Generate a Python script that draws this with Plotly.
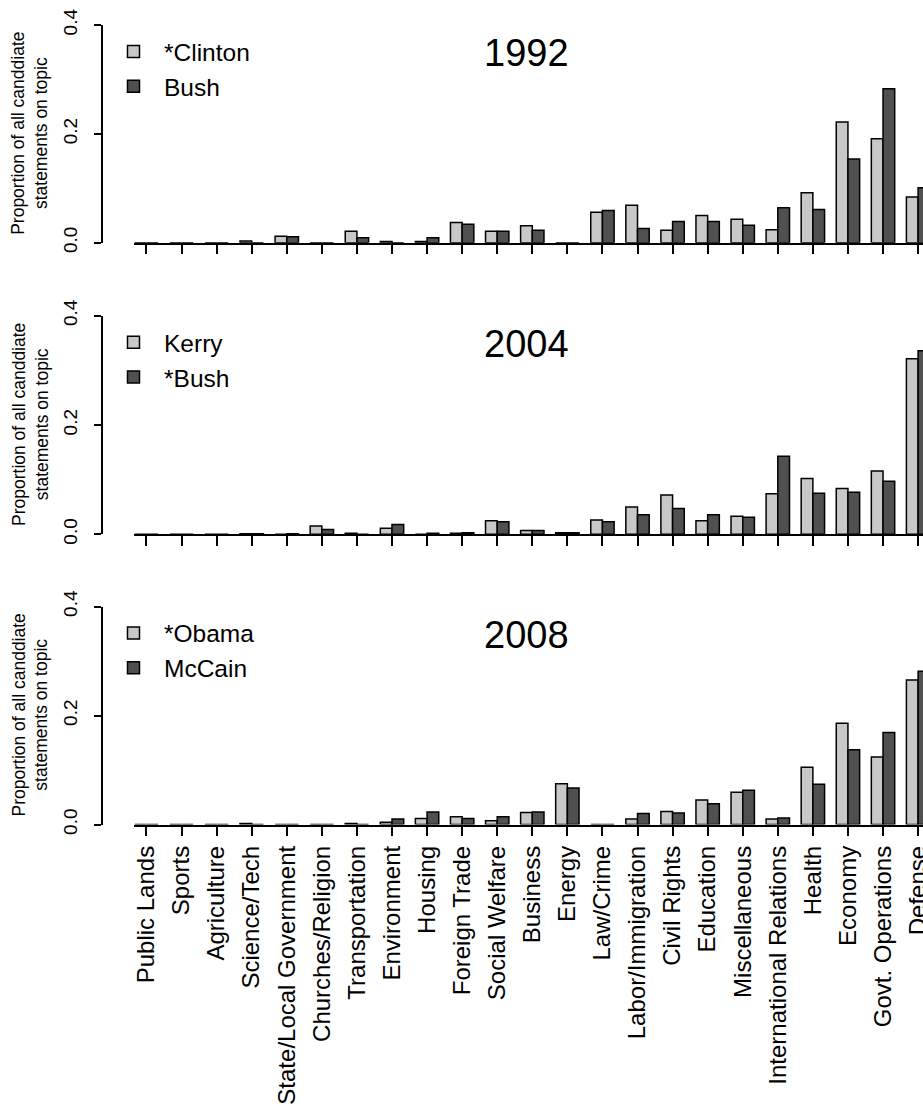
import plotly.graph_objects as go

# Topic categories, ordered as on the horizontal axis
categories = [
    "Public Lands", "Sports", "Agriculture", "Science/Tech",
    "State/Local Government", "Churches/Religion", "Transportation",
    "Environment", "Housing", "Foreign Trade", "Social Welfare", "Business",
    "Energy", "Law/Crime", "Labor/Immigration", "Civil Rights", "Education",
    "Miscellaneous", "International Relations", "Health", "Economy",
    "Govt. Operations", "Defense",
]

# Proportion of each candidate's statements on each topic
clinton_1992 = [0, 0, 0, 0.003, 0.012, 0, 0.021, 0.002, 0.002, 0.037, 0.021, 0.031,
                0, 0.056, 0.069, 0.023, 0.050, 0.043, 0.024, 0.092, 0.222, 0.191, 0.084]
bush_1992 = [0, 0, 0, 0, 0.011, 0, 0.009, 0, 0.009, 0.034, 0.021, 0.023,
             0, 0.059, 0.026, 0.039, 0.039, 0.032, 0.064, 0.061, 0.154, 0.283, 0.101]

kerry_2004 = [0, 0, 0, 0.001, 0, 0.015, 0.002, 0.011, 0, 0.002, 0.025, 0.007,
              0.003, 0.026, 0.050, 0.072, 0.025, 0.033, 0.074, 0.102, 0.084, 0.116, 0.321]
bush_2004 = [0, 0, 0, 0.001, 0.001, 0.009, 0, 0.018, 0.002, 0.003, 0.023, 0.007,
             0.003, 0.023, 0.036, 0.047, 0.036, 0.031, 0.143, 0.075, 0.077, 0.097, 0.336]

obama_2008 = [0, 0, 0, 0.002, 0, 0, 0.002, 0.004, 0.011, 0.014, 0.007, 0.022,
              0.075, 0, 0.010, 0.024, 0.045, 0.059, 0.010, 0.105, 0.186, 0.124, 0.265]
mccain_2008 = [0, 0, 0, 0, 0, 0, 0, 0.010, 0.023, 0.011, 0.014, 0.023,
               0.067, 0, 0.020, 0.021, 0.038, 0.063, 0.012, 0.074, 0.137, 0.169, 0.281]

years = ["1992", "2004", "2008"]
candidate_names = [("*Clinton", "Bush"), ("Kerry", "*Bush"), ("*Obama", "McCain")]
series = [(clinton_1992, bush_1992), (kerry_2004, bush_2004), (obama_2008, mccain_2008)]

y_ticks = [0, 0.2, 0.4]
y_tick_text = ["0.0", "0.2", "0.4"]

W, H = 923, 1111
FONT = "Liberation Sans, Arial, Helvetica, sans-serif"
LIGHT, DARK = "#c8c8c8", "#505050"


def fx(px):
    return px / W


def fy(px):
    return 1 - px / H


# pixel rows of the 0.4 and 0.0 ticks of each panel
panel_rows = [(25.0, 242.7), (315.7, 534.3), (606.5, 824.5)]

fig = go.Figure()
layout = dict(
    width=W, height=H, autosize=False,
    margin=dict(l=0, r=0, t=0, b=0, pad=0, autoexpand=False),
    paper_bgcolor="white", plot_bgcolor="white",
    barmode="group", bargap=1 / 3, bargroupgap=0,
    font=dict(family=FONT, color="black"),
    showlegend=True,
    annotations=[],
)

for k, (year, names, (a, b), (top, bottom)) in enumerate(
        zip(years, candidate_names, series, panel_rows)):
    sfx = "" if k == 0 else str(k + 1)
    leg = "legend" + sfx
    for vals, name, col in ((a, names[0], LIGHT), (b, names[1], DARK)):
        fig.add_trace(go.Bar(
            x=categories, y=vals, name=name,
            marker=dict(color=col, line=dict(color="black", width=1.5)),
            xaxis="x" + sfx, yaxis="y" + sfx, legend=leg,
            hoverinfo="x+y+name",
        ))

    layout["xaxis" + sfx] = dict(
        domain=[fx(134), 1.0], anchor="y" + sfx, automargin=False,
        type="category", categoryorder="array", categoryarray=categories,
        range=[-0.356, 22.14],
        showline=True, linecolor="black", linewidth=1.5,
        ticks="outside", ticklen=10, tickwidth=1.5, tickcolor="black",
        showgrid=False, zeroline=False,
        showticklabels=(k == 2), tickangle=-90,
        tickfont=dict(size=24, family=FONT, color="black"),
    )
    layout["yaxis" + sfx] = dict(
        domain=[fy(bottom), fy(top)], anchor="free", position=fx(101.7),
        automargin=False,
        range=[0, 0.4], tickvals=y_ticks, ticktext=y_tick_text,
        showline=True, linecolor="black", linewidth=1.5,
        ticks="outside", ticklen=7, tickwidth=1.5, tickcolor="black",
        showgrid=False, zeroline=False, tickangle=-90, ticklabelstandoff=9,
        tickfont=dict(size=19, family=FONT, color="black"),
    )
    layout[leg] = dict(
        x=fx(103), y=fy(top + 4), xanchor="left", yanchor="top",
        bgcolor="rgba(0,0,0,0)", borderwidth=0,
        font=dict(size=24.5, family=FONT, color="black"),
        itemwidth=51, tracegroupgap=0, traceorder="normal",
    )
    layout["annotations"].append(dict(
        text=year, x=fx(526), y=fy(top + 28.5), xref="paper", yref="paper",
        xanchor="center", yanchor="middle", showarrow=False,
        font=dict(size=38, family=FONT, color="black"),
    ))
    layout["annotations"].append(dict(
        text="Proportion of all canddiate<br>statements on topic",
        x=fx(30), y=fy((top + bottom) / 2), xref="paper", yref="paper",
        xanchor="center", yanchor="middle", showarrow=False, textangle=-90,
        font=dict(size=17.5, family=FONT, color="black"),
    ))

fig.update_layout(**layout)
fig.write_html("out.html")
